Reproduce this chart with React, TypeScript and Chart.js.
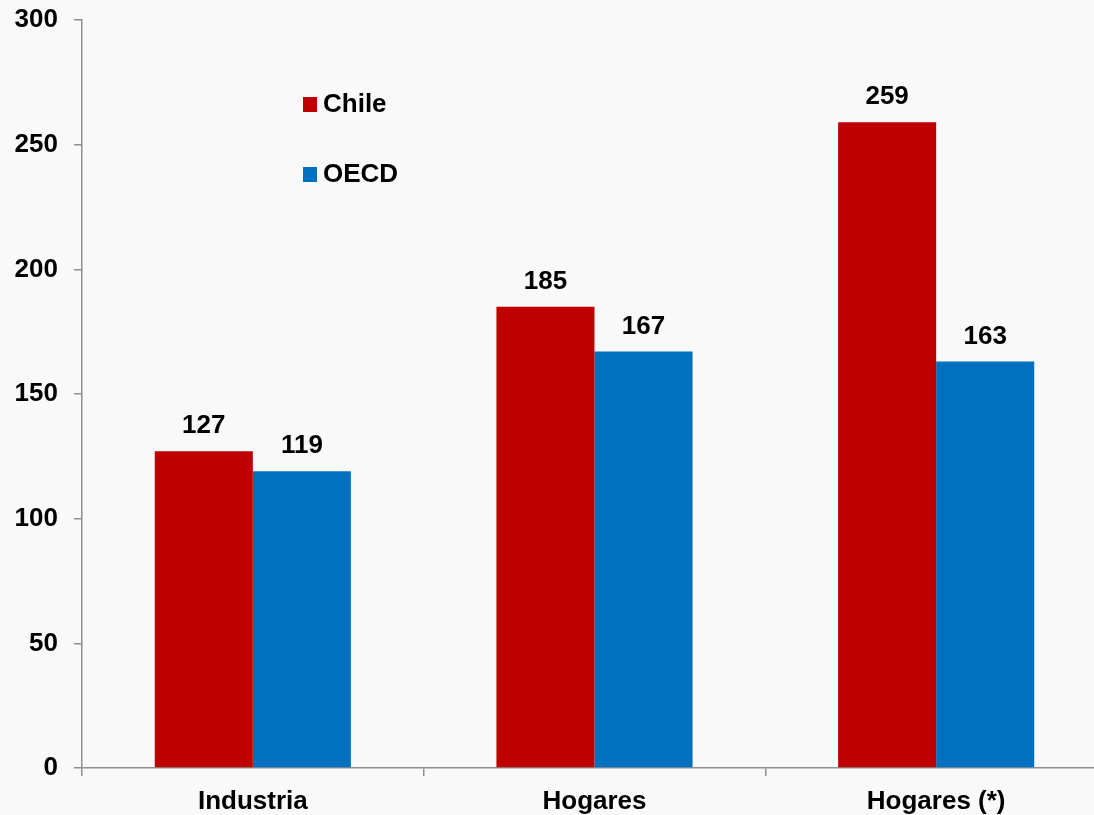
import React, { useEffect, useRef } from "react";
import { Chart, registerables } from "chart.js";

Chart.register(...registerables);

const categories = ["Industria", "Hogares", "Hogares (*)"];
const seriesNames = ["Chile", "OECD"];
const chileValues = [127, 185, 259];
const oecdValues = [119, 167, 163];
const seriesColors = ["#C00000", "#0070C0"];
const yMin = 0;
const yMax = 300;
const yStep = 50;

const FONT = "'Liberation Sans', Arial, Helvetica, sans-serif";
const AXIS_GRAY = "#8f8f8f";

const valueLabelPlugin = {
  id: "valueLabels",
  afterDatasetsDraw(chart: any) {
    const ctx = chart.ctx;
    ctx.save();
    ctx.font = `bold 26px ${FONT}`;
    ctx.fillStyle = "#000";
    ctx.textAlign = "center";
    ctx.textBaseline = "alphabetic";
    chart.data.datasets.forEach((ds: any, i: number) => {
      const meta = chart.getDatasetMeta(i);
      meta.data.forEach((bar: any, j: number) => {
        ctx.fillText(String(ds.data[j]), bar.x, bar.y - 18);
      });
    });
    ctx.restore();
  },
};

const legendPlugin = {
  id: "insideLegend",
  afterDraw(chart: any) {
    const ctx = chart.ctx;
    const area = chart.chartArea;
    ctx.save();
    ctx.font = `bold 26px ${FONT}`;
    ctx.textAlign = "left";
    ctx.textBaseline = "alphabetic";
    chart.data.datasets.forEach((ds: any, i: number) => {
      const baseY = area.top + 92 + i * 70;
      const x = area.left + 221;
      ctx.fillStyle = ds.backgroundColor;
      ctx.fillRect(x, baseY - 15, 14, 15);
      ctx.fillStyle = "#000";
      ctx.fillText(ds.label, x + 20, baseY);
    });
    ctx.restore();
  },
};

export default function App() {
  const canvasRef = useRef<HTMLCanvasElement | null>(null);

  useEffect(() => {
    document.body.style.overflow = "hidden";
    const canvas = canvasRef.current;
    if (!canvas) return;
    const chart = new Chart(canvas, {
      type: "bar",
      data: {
        labels: categories,
        datasets: [
          {
            label: seriesNames[0],
            data: chileValues,
            backgroundColor: seriesColors[0],
            categoryPercentage: 0.574,
            barPercentage: 1,
          },
          {
            label: seriesNames[1],
            data: oecdValues,
            backgroundColor: seriesColors[1],
            categoryPercentage: 0.574,
            barPercentage: 1,
          },
        ],
      },
      options: {
        animation: false,
        responsive: false,
        devicePixelRatio: 1,
        layout: { padding: { top: 20, left: 0, right: 0, bottom: 0 } },
        plugins: {
          legend: { display: false },
          tooltip: { enabled: false },
        },
        scales: {
          x: {
            grid: {
              offset: true,
              drawOnChartArea: false,
              drawTicks: true,
              tickLength: 8,
              color: AXIS_GRAY,
              lineWidth: 1.5,
            },
            border: { color: AXIS_GRAY, width: 1.5 },
            ticks: {
              color: "#000",
              font: { family: FONT, size: 26, weight: "bold" },
              padding: 10,
              maxRotation: 0,
            },
            afterFit: (scale: any) => {
              scale.height = 47;
              scale.paddingLeft = 0;
              scale.paddingRight = 0;
            },
          },
          y: {
            min: yMin,
            max: yMax,
            grid: {
              drawOnChartArea: false,
              drawTicks: true,
              tickLength: 8,
              color: AXIS_GRAY,
              lineWidth: 1.5,
            },
            border: { color: AXIS_GRAY, width: 1.5 },
            ticks: {
              stepSize: yStep,
              color: "#000",
              font: { family: FONT, size: 26, weight: "bold" },
              padding: 16,
            },
            afterFit: (scale: any) => {
              scale.width = 82;
              scale.paddingTop = 0;
              scale.paddingBottom = 0;
            },
          },
        },
      },
      plugins: [valueLabelPlugin, legendPlugin],
    });
    return () => chart.destroy();
  }, []);

  return (
    <div
      style={{
        position: "fixed",
        left: 0,
        top: 0,
        width: 1094,
        height: 815,
        overflow: "hidden",
        background: "#f9f9f9",
      }}
    >
      <canvas ref={canvasRef} width={1107} height={815} style={{ display: "block" }} />
    </div>
  );
}
